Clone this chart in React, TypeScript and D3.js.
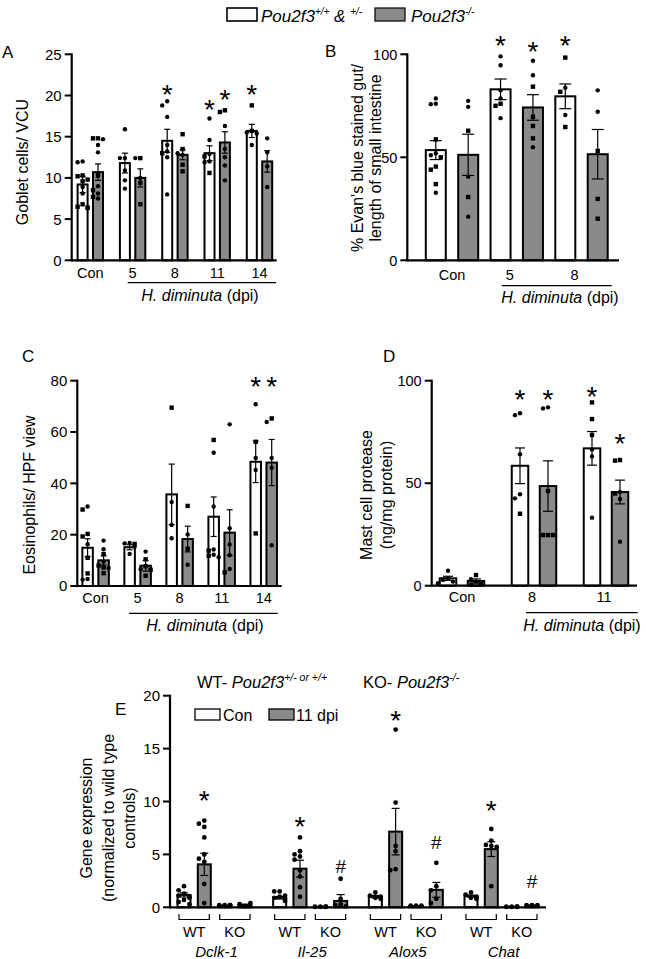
import React from "react";
import * as d3 from "d3";

const FONT = "'Liberation Sans', Arial, Helvetica, sans-serif";
const GRAY = "#8a8a8a";

// ---------------- Panel A: Goblet cells ----------------
const aGroups = ["Con", "5", "8", "11", "14"];
const aTicks = [0, 5, 10, 15, 20, 25];
const aWTMean = [9.2, 11.8, 14.5, 13.0, 15.7];
const aWTSem = [1.0, 1.2, 1.4, 0.9, 0.8];
const aKOMean = [10.7, 10.0, 12.8, 14.3, 12.0];
const aKOSem = [1.0, 1.1, 0.6, 1.3, 1.3];
const aWTDots = [
  [12.0, 11.9, 10.3, 10.2, 9.8, 9.6, 8.9, 8.1, 6.8, 6.5, 6.4, 6.3],
  [15.9, 12.4, 12.4, 10.9, 9.7, 8.7],
  [19.3, 18.8, 17.4, 14.0, 13.2, 13.0, 12.5, 8.0],
  [17.2, 14.6, 12.9, 12.6, 12.0, 11.9, 10.6],
  [18.8, 15.7, 15.5, 15.4, 14.0],
];
const aWTShapes = ["ccssssccsssc", "cccccc", "cccccscc", "cccsccs", "ssccc"];
const aKODots = [
  [14.8, 14.8, 14.7, 14.0, 13.1, 10.3, 9.0, 8.5, 8.1, 7.7, 7.5],
  [12.4, 12.4, 10.0, 9.4, 6.8],
  [15.3, 13.5, 13.0, 12.8, 11.6, 10.8],
  [18.2, 18.0, 16.3, 13.5, 12.5, 11.5, 9.7],
  [14.8, 13.1, 11.4, 8.9],
];
const aKOShapes = ["sscccscscsc", "sccss", "ssccss", "ssccccc", "cccc"];
const aMarks: [number, number, number, string][] = [
  [2, 0, 20.9, "*"], [3, 0, 19.1, "*"], [3, 1, 20.3, "*"], [4, 0, 20.9, "*"],
];

// ---------------- Panel B: Evan's blue ----------------
const bGroups = ["Con", "5", "8"];
const bTicks = [0, 50, 100];
const bWTMean = [53.5, 83.0, 79.6];
const bWTSem = [4.6, 5.0, 6.0];
const bKOMean = [51.2, 74.2, 51.5];
const bKOSem = [10.0, 6.2, 12.0];
const bWTDots = [
  [78.6, 76.0, 75.8, 58.7, 52, 51, 50, 45.5, 44, 37, 32.8],
  [99, 94.7, 82.5, 78.6, 76, 75, 69],
  [98.4, 83.8, 81.8, 70.5, 64.7],
];
const bWTShapes = ["cccsccssssc", "ccccssc", "scscs"];
const bKODots = [
  [77.4, 74.5, 62.9, 40.6, 30.7, 21.2],
  [96.9, 89.8, 84.3, 69.7, 65.2, 59.2, 54.9],
  [82.5, 72.1, 53.1, 29.8, 20.2],
];
const bKOShapes = ["ccscsc", "ccssssc", "ccsss"];
const bMarks: [number, number, number, string][] = [
  [1, 0, 107.4, "*"], [1, 1, 104.5, "*"], [2, 0, 107.4, "*"],
];

// ---------------- Panel C: Eosinophils ----------------
const cGroups = ["Con", "5", "8", "11", "14"];
const cTicks = [0, 20, 40, 60, 80];
const cWTMean = [14.9, 15.1, 35.7, 27.0, 48.4];
const cWTSem = [3.5, 1.0, 11.8, 7.7, 8.1];
const cKOMean = [10.0, 7.9, 18.3, 20.8, 48.1];
const cKOSem = [1.8, 2.1, 5.0, 8.9, 9.0];
const cWTDots = [
  [31.0, 29.8, 20.3, 19.3, 16.3, 11.0, 4.9, 2.7, 2.5],
  [16.8, 16.6, 16.4, 15.3, 12.5],
  [69.5, 32.7, 23.8, 18.6],
  [56.9, 51.9, 31.0, 14.2, 13.8, 12.2, 11.8, 11.2],
  [70.8, 56.2, 49.9, 45.2, 20.5],
];
const cWTShapes = ["cssscsscc", "ccscc", "sccc", "scccscsc", "csccs"];
const cKODots = [
  [17.7, 14.3, 12.4, 9.5, 8.0, 7.2, 7.0, 5.0],
  [13.4, 10.4, 7.7, 6.5, 6.3, 4.0],
  [31.2, 20.1, 14.5, 8.3],
  [63.0, 22.5, 16.2, 12.0, 6.6, 5.3],
  [65.3, 63.9, 49.9, 46.1, 15.9],
];
const cKOShapes = ["ccscsscs", "csscss", "scsc", "cccccs", "scccc"];
const cMarks: [number, number, number, string][] = [[4, 0, 80, "*"], [4, 1, 80, "*"]];

// ---------------- Panel D: Mast cell protease ----------------
const dGroups = ["Con", "8", "11"];
const dTicks = [0, 50, 100];
const dWTMean = [3.6, 58.5, 67.0];
const dWTSem = [1.0, 8.7, 8.2];
const dKOMean = [2.3, 48.6, 45.7];
const dKOSem = [1.0, 12.3, 5.8];
const dWTDots = [
  [7.3, 3.5, 3.0, 2.0, 1.2],
  [84.1, 83.2, 64.1, 44.6, 42.6, 35.1],
  [89.4, 81.3, 73.5, 66.5, 63.0, 33.2],
];
const dWTShapes = ["ccscc", "cccccs", "sssccc"];
const dKODots = [
  [5.2, 3.2, 2.0, 1.0, 0.5],
  [87.0, 86.5, 46.2, 24.7, 24.7, 24.7],
  [61.3, 61.0, 45.7, 45.0, 42.3, 21.5],
];
const dKOShapes = ["sccsc", "ccssss", "sscscc"];
const dMarks: [number, number, number, string][] = [
  [1, 0, 94, "*"], [1, 1, 94, "*"], [2, 0, 95.5, "*"], [2, 1, 72.5, "*"],
];

// ---------------- Panel E: Gene expression ----------------
const eGenes = ["Dclk-1", "Il-25", "Alox5", "Chat"];
const eTicks = [0, 5, 10, 15, 20];
const eWTConMean = [1.17, 0.9, 1.0, 1.05];
const eWTConSem = [0.2, 0.12, 0.12, 0.1];
const eWTDpiMean = [4.06, 3.65, 7.15, 5.5];
const eWTDpiSem = [1.05, 0.8, 2.2, 0.7];
const eKOConMean = [0.15, 0.05, 0.12, 0.05];
const eKOConSem = [0.03, 0.02, 0.03, 0.02];
const eKODpiMean = [0.2, 0.6, 1.65, 0.15];
const eKODpiSem = [0.1, 0.6, 0.7, 0.05];
const eWTConDots = [
  [2.0, 1.6, 1.3, 1.1, 1.0, 0.9, 0.7, 0.5, 0.3],
  [1.5, 1.5, 1.1, 1.0, 0.9, 0.8, 0.6],
  [1.4, 1.1, 1.0, 0.9, 0.8],
  [1.4, 1.2, 1.0, 0.9, 0.8],
];
const eWTDpiDots = [
  [8.2, 7.9, 7.6, 6.6, 5.0, 4.6, 4.3, 2.2, 0.4],
  [6.6, 5.3, 5.0, 4.8, 4.5, 3.5, 2.9, 1.9, 1.0],
  [16.8, 9.9, 5.8, 5.3, 3.6, 3.5],
  [7.4, 6.3, 5.9, 5.8, 5.7, 2.0],
];
const eKOConDots = [
  [0.2, 0.2, 0.2, 0.2],
  [0.05, 0.05, 0.05, 0.05],
  [0.15, 0.15, 0.15],
  [0.05, 0.05, 0.05, 0.05],
];
const eKODpiDots = [
  [0.1, 0.3, 0.4],
  [2.7, 0.8, 0.3, 0.2, 0.1],
  [4.2, 2.0, 1.6, 0.8, 0.4],
  [0.2, 0.2, 0.2],
];
const eMarks: [number, number, number, string][] = [
  [0, 1, 10.7, "*"], [1, 1, 8.25, "*"], [2, 1, 18.2, "*"], [3, 1, 9.7, "*"],
  [1, 3, 3.85, "#"], [2, 3, 6.2, "#"], [3, 3, 2.5, "#"],
];

function allC(dots: number[][]) {
  return dots.map((d) => "c".repeat(d.length));
}

type PanelProps = {
  axisX: number; axisEnd: number; y0: number; yTop: number; yMax: number;
  ticks: number[]; groups: string[]; groupRange: [number, number];
  offsets: number[]; barW: number;
  means: number[][]; sems: number[][]; dots: number[][][]; shapes: string[][];
  fills: string[]; marks: [number, number, number, string][];
  dotR: number; tickFont: number; capW: number; starSize: number;
  showCats?: boolean; catDx?: number; catY?: number; catFont?: number;
};

function swarm(vals: number[], y: (v: number) => number, step: number, maxOff: number) {
  const placed: { x: number; y: number }[] = [];
  return vals.map((v) => {
    const py = y(v);
    const cands = [0, -1, 1, -2, 2, -3, 3].map((k) => k * step).filter((c) => Math.abs(c) <= maxOff);
    let chosen = cands[cands.length - 1];
    for (const c of cands) {
      if (placed.every((p) => Math.hypot(p.x - c, p.y - py) >= step * 0.95)) { chosen = c; break; }
    }
    placed.push({ x: chosen, y: py });
    return { x: chosen, y: py };
  });
}

function Panel(p: PanelProps) {
  const y = d3.scaleLinear().domain([0, p.yMax]).range([p.y0, p.yTop]);
  const gx = d3.scalePoint<string>().domain(p.groups).range(p.groupRange);
  const els: React.ReactNode[] = [];
  p.means.forEach((ser, s) => {
    ser.forEach((m, g) => {
      const cx = (gx(p.groups[g]) as number) + p.offsets[s];
      const top = y(m);
      els.push(
        <rect key={`b${s}-${g}`} x={cx - p.barW / 2} y={top} width={p.barW} height={p.y0 - top}
          fill={p.fills[s]} stroke="#000" strokeWidth={2} />
      );
    });
  });
  p.means.forEach((ser, s) => {
    ser.forEach((m, g) => {
      const cx = (gx(p.groups[g]) as number) + p.offsets[s];
      const e = p.sems[s][g];
      const yH = y(m + e), yL = y(Math.max(0, m - e));
      els.push(
        <g key={`e${s}-${g}`} stroke="#000" strokeWidth={1.2}>
          <line x1={cx} x2={cx} y1={yH} y2={yL} />
          <line x1={cx - p.capW / 2} x2={cx + p.capW / 2} y1={yH} y2={yH} />
          <line x1={cx - p.capW / 2} x2={cx + p.capW / 2} y1={yL} y2={yL} />
        </g>
      );
    });
  });
  p.dots.forEach((ser, s) => {
    ser.forEach((vals, g) => {
      const cx = (gx(p.groups[g]) as number) + p.offsets[s];
      const pos = swarm(vals, (v) => y(v), p.dotR * 2 + 0.6, p.barW / 2 + 3);
      pos.forEach((pt, i) => {
        const sh = p.shapes[s][g][i] || "c";
        if (sh === "s") {
          const h = p.dotR * 1.0;
          els.push(<rect key={`d${s}-${g}-${i}`} x={cx + pt.x - h} y={pt.y - h} width={h * 2} height={h * 2} fill="#000" />);
        } else {
          els.push(<circle key={`d${s}-${g}-${i}`} cx={cx + pt.x} cy={pt.y} r={p.dotR} fill="#000" />);
        }
      });
    });
  });
  p.marks.forEach(([g, s, v, ch], i) => {
    const cx = (gx(p.groups[g]) as number) + p.offsets[s];
    const cy = y(v);
    if (ch === "*") {
      els.push(<text key={`m${i}`} x={cx} y={cy + 0.56 * p.starSize} textAnchor="middle" fontSize={p.starSize}>*</text>);
    } else {
      els.push(<text key={`m${i}`} x={cx} y={cy + 0.36 * 19} textAnchor="middle" fontSize={19}>{ch}</text>);
    }
  });
  // axes
  els.push(<line key="xa" x1={p.axisX} x2={p.axisEnd} y1={p.y0} y2={p.y0} stroke="#000" strokeWidth={2.2} />);
  els.push(<line key="ya" x1={p.axisX} x2={p.axisX} y1={p.y0 + 1.1} y2={y(p.ticks[p.ticks.length - 1]) - 1} stroke="#000" strokeWidth={2.2} />);
  p.ticks.forEach((t, i) => {
    els.push(<line key={`t${i}`} x1={p.axisX - 7} x2={p.axisX} y1={y(t)} y2={y(t)} stroke="#000" strokeWidth={2} />);
    els.push(<text key={`tl${i}`} x={p.axisX - 10} y={y(t)} dy="0.36em" textAnchor="end" fontSize={p.tickFont}>{t}</text>);
  });
  if (p.showCats) {
    p.groups.forEach((g, i) => {
      els.push(<text key={`c${i}`} x={(gx(g) as number) + (i === 0 ? 0 : p.catDx || 0)} y={p.catY} textAnchor="middle" fontSize={p.catFont}>{g}</text>);
    });
  }
  return <g>{els}</g>;
}

function Hd({ x, y }: { x: number; y: number }) {
  return (
    <text x={x} y={y} textAnchor="middle" fontSize={16}>
      <tspan fontStyle="italic">H. diminuta</tspan> (dpi)
    </text>
  );
}

export default function App() {
  const eGx = d3.scalePoint<string>().domain(eGenes).range([214.5, 501.5]);
  const eOff = [-30.5, -10.2, 10.2, 30.5];
  return (
    <svg width={646} height={959} style={{ position: "absolute", left: 0, top: 0 }} fontFamily={FONT}>
      <rect width={646} height={959} fill="#fff" />
      {/* top legend */}
      <rect x={227} y={8} width={30} height={13} fill="#fff" stroke="#000" strokeWidth={1.6} />
      <text x={261} y={22} fontSize={17} fontStyle="italic">
        Pou2f3<tspan fontSize={10} dy={-7}>+/+</tspan><tspan dy={7}> &amp; </tspan><tspan fontSize={10} dy={-7}>+/-</tspan>
      </text>
      <rect x={375} y={8} width={30} height={13} fill={GRAY} stroke="#000" strokeWidth={1.2} />
      <text x={411} y={22} fontSize={17} fontStyle="italic">
        Pou2f3<tspan fontSize={10} dy={-7}>-/-</tspan>
      </text>

      {/* Panel A */}
      <text x={2} y={58} fontSize={17}>A</text>
      <text transform="translate(22,162) rotate(-90)" textAnchor="middle" dy="0.35em" fontSize={16}>Goblet cells/ VCU</text>
      <Panel axisX={71.7} axisEnd={276.7} y0={260.3} yTop={54.3} yMax={25} ticks={aTicks}
        groups={aGroups} groupRange={[90.3, 259.5]} offsets={[-7.7, 7.7]} barW={10}
        means={[aWTMean, aKOMean]} sems={[aWTSem, aKOSem]} dots={[aWTDots, aKODots]}
        shapes={[aWTShapes, aKOShapes]} fills={["#fff", GRAY]} marks={aMarks}
        dotR={2.2} tickFont={15} capW={6} starSize={28}
        showCats catDx={0} catY={278} catFont={14.5} />
      <line x1={127.7} x2={276} y1={282.7} y2={282.7} stroke="#000" strokeWidth={1.2} />
      <Hd x={200} y={301} />

      {/* Panel B */}
      <text x={325} y={57} fontSize={17}>B</text>
      <text transform="translate(357,158) rotate(-90)" textAnchor="middle" dy="0.35em" fontSize={16}>% Evan's blue stained gut/</text>
      <text transform="translate(375,158) rotate(-90)" textAnchor="middle" dy="0.35em" fontSize={16}>length of small intestine</text>
      <Panel axisX={407.3} axisEnd={619} y0={260.3} yTop={54.3} yMax={100} ticks={bTicks}
        groups={bGroups} groupRange={[452, 581.5]} offsets={[-16.2, 16.2]} barW={20}
        means={[bWTMean, bKOMean]} sems={[bWTSem, bKOSem]} dots={[bWTDots, bKODots]}
        shapes={[bWTShapes, bKOShapes]} fills={["#fff", GRAY]} marks={bMarks}
        dotR={2.2} tickFont={14.5} capW={12} starSize={28}
        showCats catDx={-7} catY={280} catFont={14.5} />
      <line x1={501.7} x2={611.7} y1={285.7} y2={285.7} stroke="#000" strokeWidth={1.2} />
      <Hd x={560} y={303} />

      {/* Panel C */}
      <text x={22} y={362} fontSize={17}>C</text>
      <text transform="translate(29.5,495) rotate(-90)" textAnchor="middle" dy="0.35em" fontSize={16}>Eosinophils/ HPF view</text>
      <Panel axisX={77.3} axisEnd={281.7} y0={586} yTop={380.7} yMax={80} ticks={cTicks}
        groups={cGroups} groupRange={[95.6, 263.7]} offsets={[-8, 8]} barW={10.5}
        means={[cWTMean, cKOMean]} sems={[cWTSem, cKOSem]} dots={[cWTDots, cKODots]}
        shapes={[cWTShapes, cKOShapes]} fills={["#fff", GRAY]} marks={cMarks}
        dotR={2.2} tickFont={15} capW={6} starSize={28}
        showCats catDx={0} catY={603} catFont={14.5} />
      <line x1={129} x2={277.7} y1={613.3} y2={613.3} stroke="#000" strokeWidth={1.2} />
      <Hd x={205} y={631} />

      {/* Panel D */}
      <text x={383} y={362} fontSize={17}>D</text>
      <text transform="translate(366.5,495) rotate(-90)" textAnchor="middle" dy="0.35em" fontSize={16}>Mast cell protease</text>
      <text transform="translate(386.5,495) rotate(-90)" textAnchor="middle" dy="0.35em" fontSize={16}>(ng/mg protein)</text>
      <Panel axisX={431.7} axisEnd={637} y0={585.7} yTop={380.7} yMax={100} ticks={dTicks}
        groups={dGroups} groupRange={[462, 606]} offsets={[-14, 14]} barW={16.5}
        means={[dWTMean, dKOMean]} sems={[dWTSem, dKOSem]} dots={[dWTDots, dKODots]}
        shapes={[dWTShapes, dKOShapes]} fills={["#fff", GRAY]} marks={dMarks}
        dotR={2.2} tickFont={14.5} capW={10} starSize={28}
        showCats catDx={-2} catY={602} catFont={14.5} />
      <line x1={526} x2={637.7} y1={612.7} y2={612.7} stroke="#000" strokeWidth={1.2} />
      <Hd x={582} y={631} />

      {/* Panel E */}
      <text x={115} y={715} fontSize={17}>E</text>
      <text x={197} y={688} fontSize={16.5}>
        WT- <tspan fontStyle="italic">Pou2f3</tspan><tspan fontStyle="italic" fontSize={10.5} dy={-7}>+/- or +/+</tspan>
      </text>
      <text x={363} y={688} fontSize={16.5}>
        KO- <tspan fontStyle="italic">Pou2f3</tspan><tspan fontStyle="italic" fontSize={10.5} dy={-7}>-/-</tspan>
      </text>
      <rect x={195} y={709} width={25} height={11} fill="#fff" stroke="#000" strokeWidth={1.3} />
      <text x={223} y={720.5} fontSize={16}>Con</text>
      <rect x={269} y={709} width={25} height={11} fill={GRAY} stroke="#000" strokeWidth={1.3} />
      <text x={296} y={720.5} fontSize={16}>11 dpi</text>
      <text transform="translate(86,818) rotate(-90)" textAnchor="middle" dy="0.35em" fontSize={16}>Gene expression</text>
      <text transform="translate(108,818) rotate(-90)" textAnchor="middle" dy="0.35em" fontSize={16}>(normalized to wild type</text>
      <text transform="translate(129,818) rotate(-90)" textAnchor="middle" dy="0.35em" fontSize={16}>controls)</text>
      <Panel axisX={170} axisEnd={546} y0={907.3} yTop={695.7} yMax={20} ticks={eTicks}
        groups={eGenes} groupRange={[214.5, 501.5]} offsets={eOff} barW={13}
        means={[eWTConMean, eWTDpiMean, eKOConMean, eKODpiMean]}
        sems={[eWTConSem, eWTDpiSem, eKOConSem, eKODpiSem]}
        dots={[eWTConDots, eWTDpiDots, eKOConDots, eKODpiDots]}
        shapes={[allC(eWTConDots), allC(eWTDpiDots), allC(eKOConDots), allC(eKODpiDots)]}
        fills={["#fff", GRAY, "#fff", GRAY]} marks={eMarks}
        dotR={2.4} tickFont={15} capW={8} starSize={28} />
      {eGenes.map((g, i) => {
        const c = eGx(g) as number;
        const pairs: [number, number, string][] = [[0, 1, "WT"], [2, 3, "KO"]];
        return (
          <g key={`br${i}`}>
            {pairs.map(([a, b, lab]) => {
              const x1 = c + eOff[a] - 5, x2 = c + eOff[b] + 5;
              return (
                <g key={lab}>
                  <path d={`M${x1},914 V919.5 H${x2} V914`} fill="none" stroke="#000" strokeWidth={1.2} />
                  <text x={(x1 + x2) / 2} y={937} textAnchor="middle" fontSize={14.5}>{lab}</text>
                </g>
              );
            })}
            <text x={c + 2} y={957} textAnchor="middle" fontSize={15} fontStyle="italic">{g}</text>
          </g>
        );
      })}
    </svg>
  );
}
